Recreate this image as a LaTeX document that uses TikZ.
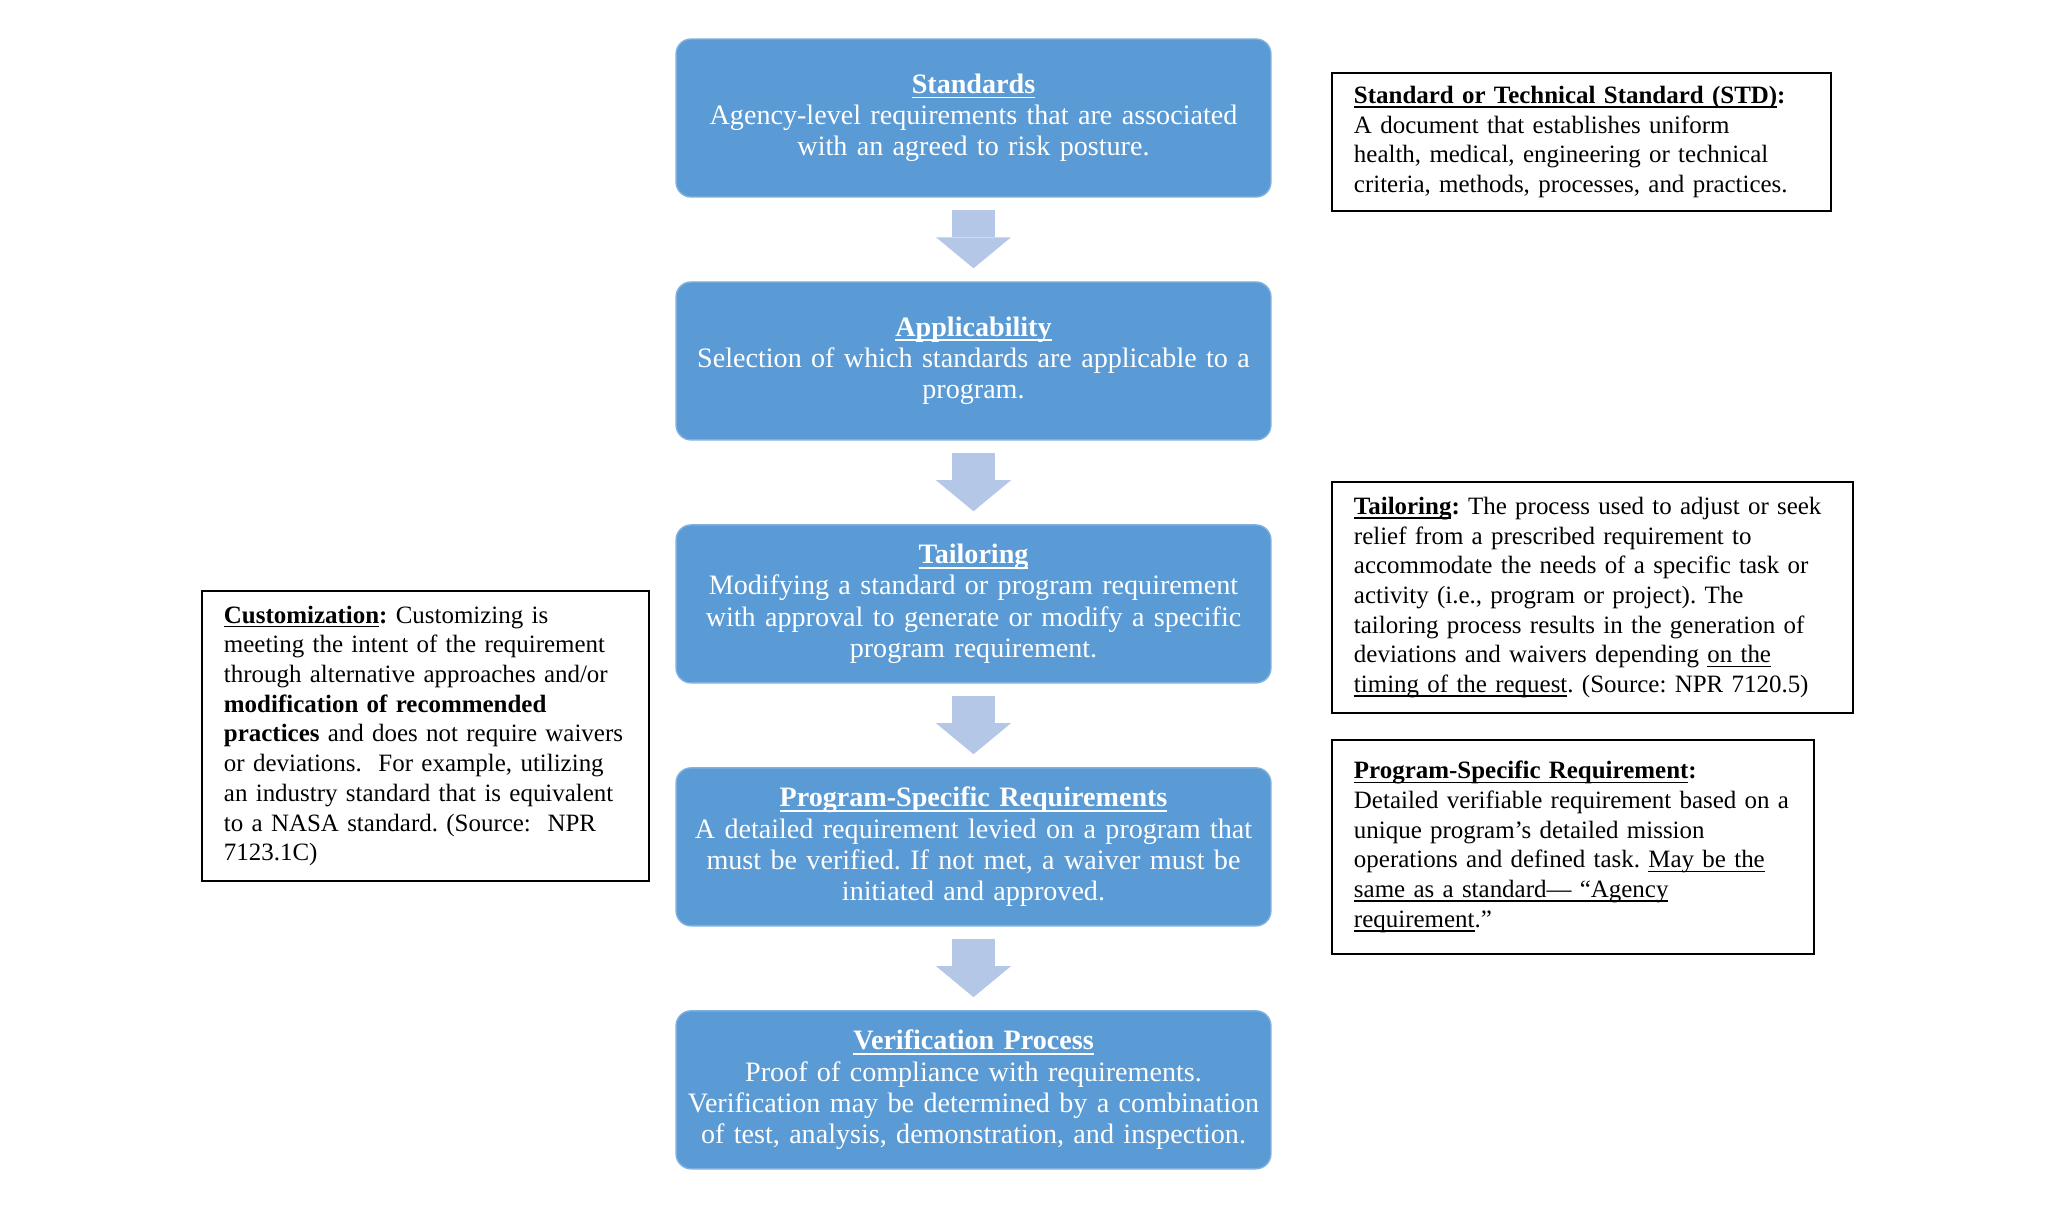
\documentclass[tikz,border=0pt]{standalone}
\usepackage{fontspec}
\setmainfont{Liberation Serif}
\usetikzlibrary{arrows.meta}
\definecolor{boxblue}{HTML}{5B9BD5}
\definecolor{boxedge}{HTML}{7FB0DE}
\definecolor{arrowblue}{HTML}{B4C7E7}
\newcommand\uln[1]{\leavevmode{\setbox0\hbox{#1}\rlap{\rule[-0.17em]{\wd0}{0.06em}}\box0}}
\frenchspacing

\begin{document}
\begin{tikzpicture}[x=0.02cm, y=-0.02cm, node distance=4.86cm,
  stage/.style={draw=boxedge, fill=boxblue, rounded corners=0.3cm, line width=0.8pt, minimum width=11.9cm, minimum height=3.16cm, text width=11.5cm, inner xsep=0.2cm, align=center, text=white, font=\fontsize{16}{17.8}\selectfont},
  defbox/.style={draw, line width=1.1pt, inner xsep=0.44cm, align=left, anchor=north west, font=\fontsize{14.2}{16.9}\selectfont},
  blockarrow/.style={arrowblue, line width=0.86cm, -{Triangle[width=1.5cm, length=0.62cm, line width=0pt]}, shorten <=0.24cm, shorten >=0.26cm}]
\useasboundingbox (0,0) rectangle (2048,1204);

\node[stage] (std) at (973.5,118) {\textbf{\uln{Standards}}\\Agency-level requirements that are associated\\with an agreed to risk posture.};
\node[stage, below of=std] (app) {\textbf{\uln{Applicability}}\\Selection of which standards are applicable to a\\program.};
\node[stage, below of=app] (tail) {\textbf{\uln{Tailoring}}\\Modifying a standard or program requirement\\with approval to generate or modify a specific\\program requirement.};
\node[stage, below of=tail] (psr) {\textbf{\uln{Program-Specific Requirements}}\\A detailed requirement levied on a program that\\must be verified. If not met, a waiver must be\\initiated and approved.};
\node[stage, below of=psr] (ver) {\textbf{\uln{Verification Process}}\\Proof of compliance with requirements.\\Verification may be determined by a combination\\of test, analysis, demonstration, and inspection.};

\draw[blockarrow] (std) -- (app);
\draw[blockarrow] (app) -- (tail);
\draw[blockarrow] (tail) -- (psr);
\draw[blockarrow] (psr) -- (ver);

% definitions
\node[defbox, text width=9.1cm, minimum height=2.76cm] (stddef) at (1331,72) {\textbf{\uln{Standard or Technical Standard (STD)}:}\\A document that establishes uniform\\health, medical, engineering or technical\\criteria, methods, processes, and practices.};
\node[defbox, text width=9.54cm, minimum height=4.62cm] (taildef) at (1331,481) {\textbf{\uln{Tailoring}:} The process used to adjust or seek\\relief from a prescribed requirement to\\accommodate the needs of a specific task or\\activity (i.e., program or project). The\\tailoring process results in the generation of\\deviations and waivers depending \uln{on the}\\\uln{timing of the request}. (Source: NPR 7120.5)};
\node[defbox, text width=8.76cm, minimum height=4.28cm] (psrdef) at (1331,739) {\textbf{\uln{Program-Specific Requirement}:}\\Detailed verifiable requirement based on a\\unique program’s detailed mission\\operations and defined task. \uln{May be the}\\\uln{same as a standard— “Agency}\\\uln{requirement}.”};
\node[defbox, text width=8.06cm, minimum height=5.8cm] (custdef) at (201,590) {\textbf{\uln{Customization}:} Customizing is\\meeting the intent of the requirement\\through alternative approaches and/or\\\textbf{modification of recommended}\\\textbf{practices} and does not require waivers\\or deviations.\ \ For example, utilizing\\an industry standard that is equivalent\\to a NASA standard. (Source:\ \ NPR\\7123.1C)};
\end{tikzpicture}
\end{document}
